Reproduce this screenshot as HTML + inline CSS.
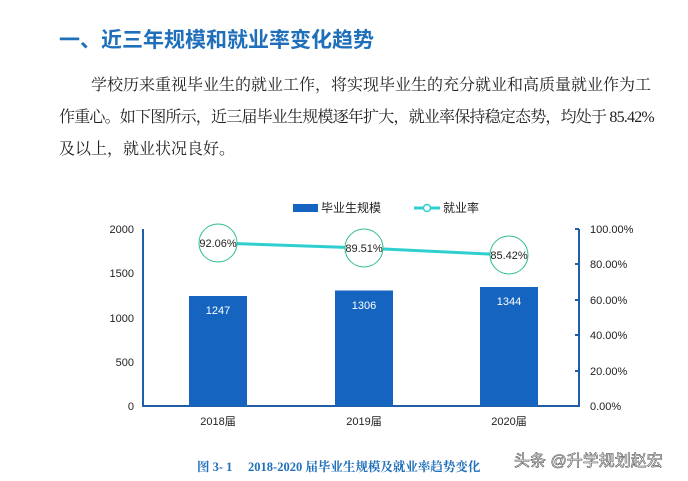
<!DOCTYPE html>
<html><head><meta charset="utf-8"><style>
body{margin:0;width:688px;height:481px;background:#fff;overflow:hidden;position:relative;font-family:"Liberation Serif","Noto Serif CJK SC",serif}
.t{position:absolute;white-space:nowrap}
</style></head><body>
<div class="t" style="left:59px;top:24px;font:bold 21px 'Liberation Sans','Noto Sans CJK SC',sans-serif;color:#1f6fba">一、近三年规模和就业率变化趋势</div>
<div class="t" style="left:59px;top:70px;font-size:16px;color:#222;line-height:32px">
<div>　　学校历来重视毕业生的就业工作，将实现毕业生的充分就业和高质量就业作为工</div>
<div style="letter-spacing:-0.8px">作重心。如下图所示，近三届毕业生规模逐年扩大，就业率保持稳定态势，均处于 85.42%</div>
<div>及以上，就业状况良好。</div></div>
<svg width="688" height="481" style="position:absolute;left:0;top:0" font-family="Liberation Sans,Noto Sans CJK SC,sans-serif">
<rect x="293" y="204" width="25" height="8" fill="#1565c0"/>
<text x="321" y="212" font-size="12" fill="#222">毕业生规模</text>
<line x1="414" y1="208" x2="440" y2="208" stroke="#2ecfd0" stroke-width="3"/>
<circle cx="427" cy="208" r="3.5" fill="#fff" stroke="#2ecfd0" stroke-width="1.5"/>
<text x="443" y="212" font-size="12" fill="#222">就业率</text>
<line x1="143" y1="229" x2="143" y2="407" stroke="#1e5fa8" stroke-width="2"/>
<line x1="142" y1="406" x2="580" y2="406" stroke="#1e5fa8" stroke-width="2"/>
<line x1="579" y1="229" x2="579" y2="407" stroke="#1e5fa8" stroke-width="2"/>
<g stroke="#1e5fa8" stroke-width="2"><line x1="575" y1="229" x2="579" y2="229"/><line x1="575" y1="264" x2="579" y2="264"/><line x1="575" y1="300" x2="579" y2="300"/><line x1="575" y1="335" x2="579" y2="335"/><line x1="575" y1="371" x2="579" y2="371"/></g>
<g font-size="11" fill="#222" text-anchor="end">
<text x="134" y="233">2000</text><text x="134" y="277">1500</text><text x="134" y="322">1000</text><text x="134" y="366">500</text><text x="134" y="410">0</text></g>
<g font-size="11" fill="#222">
<text x="590" y="233">100.00%</text><text x="590" y="268">80.00%</text><text x="590" y="304">60.00%</text><text x="590" y="339">40.00%</text><text x="590" y="375">20.00%</text><text x="590" y="410">0.00%</text></g>
<rect x="189" y="296" width="58" height="110" fill="#1565c0"/>
<rect x="335" y="290.5" width="58" height="115.5" fill="#1565c0"/>
<rect x="480" y="287" width="58" height="119" fill="#1565c0"/>
<g font-size="11" fill="#fff" text-anchor="middle"><text x="218" y="314">1247</text><text x="364" y="309">1306</text><text x="509" y="305">1344</text></g>
<polyline points="218,243 364,248 509,255" fill="none" stroke="#2ecfd0" stroke-width="3"/>
<g fill="#fff" stroke="#2ebd8e" stroke-width="1"><circle cx="218" cy="243" r="19"/><circle cx="364" cy="248" r="19"/><circle cx="509" cy="255" r="19"/></g>
<g font-size="11" fill="#222" text-anchor="middle"><text x="218" y="247">92.06%</text><text x="364" y="252">89.51%</text><text x="509" y="259">85.42%</text></g>
<g font-size="11" fill="#222" text-anchor="middle"><text x="218" y="425">2018届</text><text x="364" y="425">2019届</text><text x="509" y="425">2020届</text></g>
<text x="197" y="471" font-size="12.5" font-weight="bold" fill="#1f6fba" font-family="Liberation Serif,Noto Serif CJK SC,serif">图 3- 1　 2018-2020 届毕业生规模及就业率趋势变化</text>
<text x="514" y="466" font-size="16" fill="#fff" stroke="#555" stroke-width="0.6">头条 @升学规划赵宏</text>
</svg>
</body></html>
